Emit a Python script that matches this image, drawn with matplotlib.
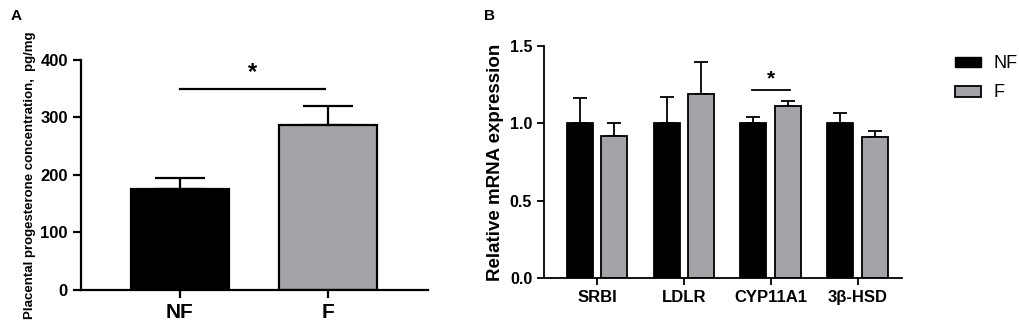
import numpy as np
import matplotlib
matplotlib.use("Agg")
import matplotlib.pyplot as plt
from matplotlib.patches import Patch

plt.rcParams["font.family"] = ["Liberation Sans", "DejaVu Sans"]

# Panel A: placental progesterone
groups_a = ["NF", "F"]
prog_mean = [176, 287]
prog_err = [19, 33]

# Panel B: relative mRNA expression
genes = ["SRBI", "LDLR", "CYP11A1", "3β-HSD"]
nf_mean = [1.00, 1.00, 1.00, 1.00]
nf_err = [0.165, 0.17, 0.04, 0.065]
f_mean = [0.918, 1.19, 1.111, 0.913]
f_err = [0.082, 0.207, 0.03, 0.035]

black = "#000000"
grey = "#A4A3A8"

fig = plt.figure(figsize=(10.19, 3.22), dpi=100)

# ── Panel A ──
ax_a = fig.add_axes([0.0795, 0.0994, 0.3405, 0.7143])
xa = np.arange(len(groups_a))
ax_a.bar(xa, prog_mean, width=0.66, color=[black, grey], edgecolor="black",
         linewidth=1.6, zorder=2)
ax_a.errorbar(xa, prog_mean, yerr=[[0, 0], prog_err], fmt="none", ecolor="black",
              elinewidth=1.6, capsize=18, capthick=1.6, zorder=1)
ax_a.plot([0, 0.98], [349, 349], color="black", lw=1.6)
ax_a.text(0.49, 358, "*", ha="center", va="bottom", fontsize=17, fontweight="bold")
ax_a.set_xlim(-0.669, 1.676)
ax_a.set_ylim(0, 400)
ax_a.set_yticks([0, 100, 200, 300, 400])
ax_a.set_xticks(xa)
ax_a.set_xticklabels(groups_a, fontsize=15, fontweight="bold")
ax_a.set_ylabel("Placental progesterone concentration,  pg/mg", fontsize=9.5,
                fontweight="bold", labelpad=3)
ax_a.tick_params(axis="y", labelsize=12, width=1.6, length=6)
ax_a.tick_params(axis="x", width=1.6, length=6)
for lab in ax_a.get_yticklabels():
    lab.set_fontweight("bold")
for side in ["top", "right"]:
    ax_a.spines[side].set_visible(False)
for side in ["left", "bottom"]:
    ax_a.spines[side].set_linewidth(1.6)

# ── Panel B ──
ax_b = fig.add_axes([0.5339, 0.1357, 0.3513, 0.7223])
xb = np.arange(len(genes))
w = 0.3
ax_b.bar(xb - 0.2, nf_mean, width=w, color=black, edgecolor="black",
         linewidth=1.3, zorder=2, label="NF")
ax_b.bar(xb + 0.2, f_mean, width=w, color=grey, edgecolor="black",
         linewidth=1.3, zorder=2, label="F")
ax_b.errorbar(xb - 0.2, nf_mean, yerr=[np.zeros(4), nf_err], fmt="none",
              ecolor="black", elinewidth=1.3, capsize=5, capthick=1.3, zorder=1)
ax_b.errorbar(xb + 0.2, f_mean, yerr=[np.zeros(4), f_err], fmt="none",
              ecolor="black", elinewidth=1.3, capsize=5, capthick=1.3, zorder=1)
ax_b.plot([2 - 0.22, 2 + 0.22], [1.214, 1.214], color="black", lw=1.3)
ax_b.text(2, 1.225, "*", ha="center", va="bottom", fontsize=15, fontweight="bold")
ax_b.set_xlim(-0.61, 3.51)
ax_b.set_ylim(0, 1.5)
ax_b.set_yticks([0.0, 0.5, 1.0, 1.5])
ax_b.set_yticklabels(["0.0", "0.5", "1.0", "1.5"])
ax_b.set_xticks(xb)
ax_b.set_xticklabels(genes, fontsize=12, fontweight="bold")
ax_b.set_ylabel("Relative mRNA expression", fontsize=13.5, fontweight="bold", labelpad=4)
ax_b.tick_params(axis="y", labelsize=11.5, width=1.3, length=5)
ax_b.tick_params(axis="x", width=1.3, length=5)
for lab in ax_b.get_yticklabels():
    lab.set_fontweight("bold")
for side in ["top", "right"]:
    ax_b.spines[side].set_visible(False)
for side in ["left", "bottom"]:
    ax_b.spines[side].set_linewidth(1.3)

handles = [Patch(facecolor=black, edgecolor="black", label="NF"),
           Patch(facecolor=grey, edgecolor="black", linewidth=1.3, label="F")]
fig.legend(handles=handles, loc="upper left", bbox_to_anchor=(0.937, 0.828),
           frameon=False, fontsize=13, handlelength=1.44, handleheight=0.56,
           labelspacing=0.67, handletextpad=0.72, borderpad=0, borderaxespad=0)

fig.text(0.010, 0.972, "A", fontsize=11, fontweight="bold", va="top")
fig.text(0.475, 0.972, "B", fontsize=11, fontweight="bold", va="top")

fig.savefig("out.png", dpi=100)
